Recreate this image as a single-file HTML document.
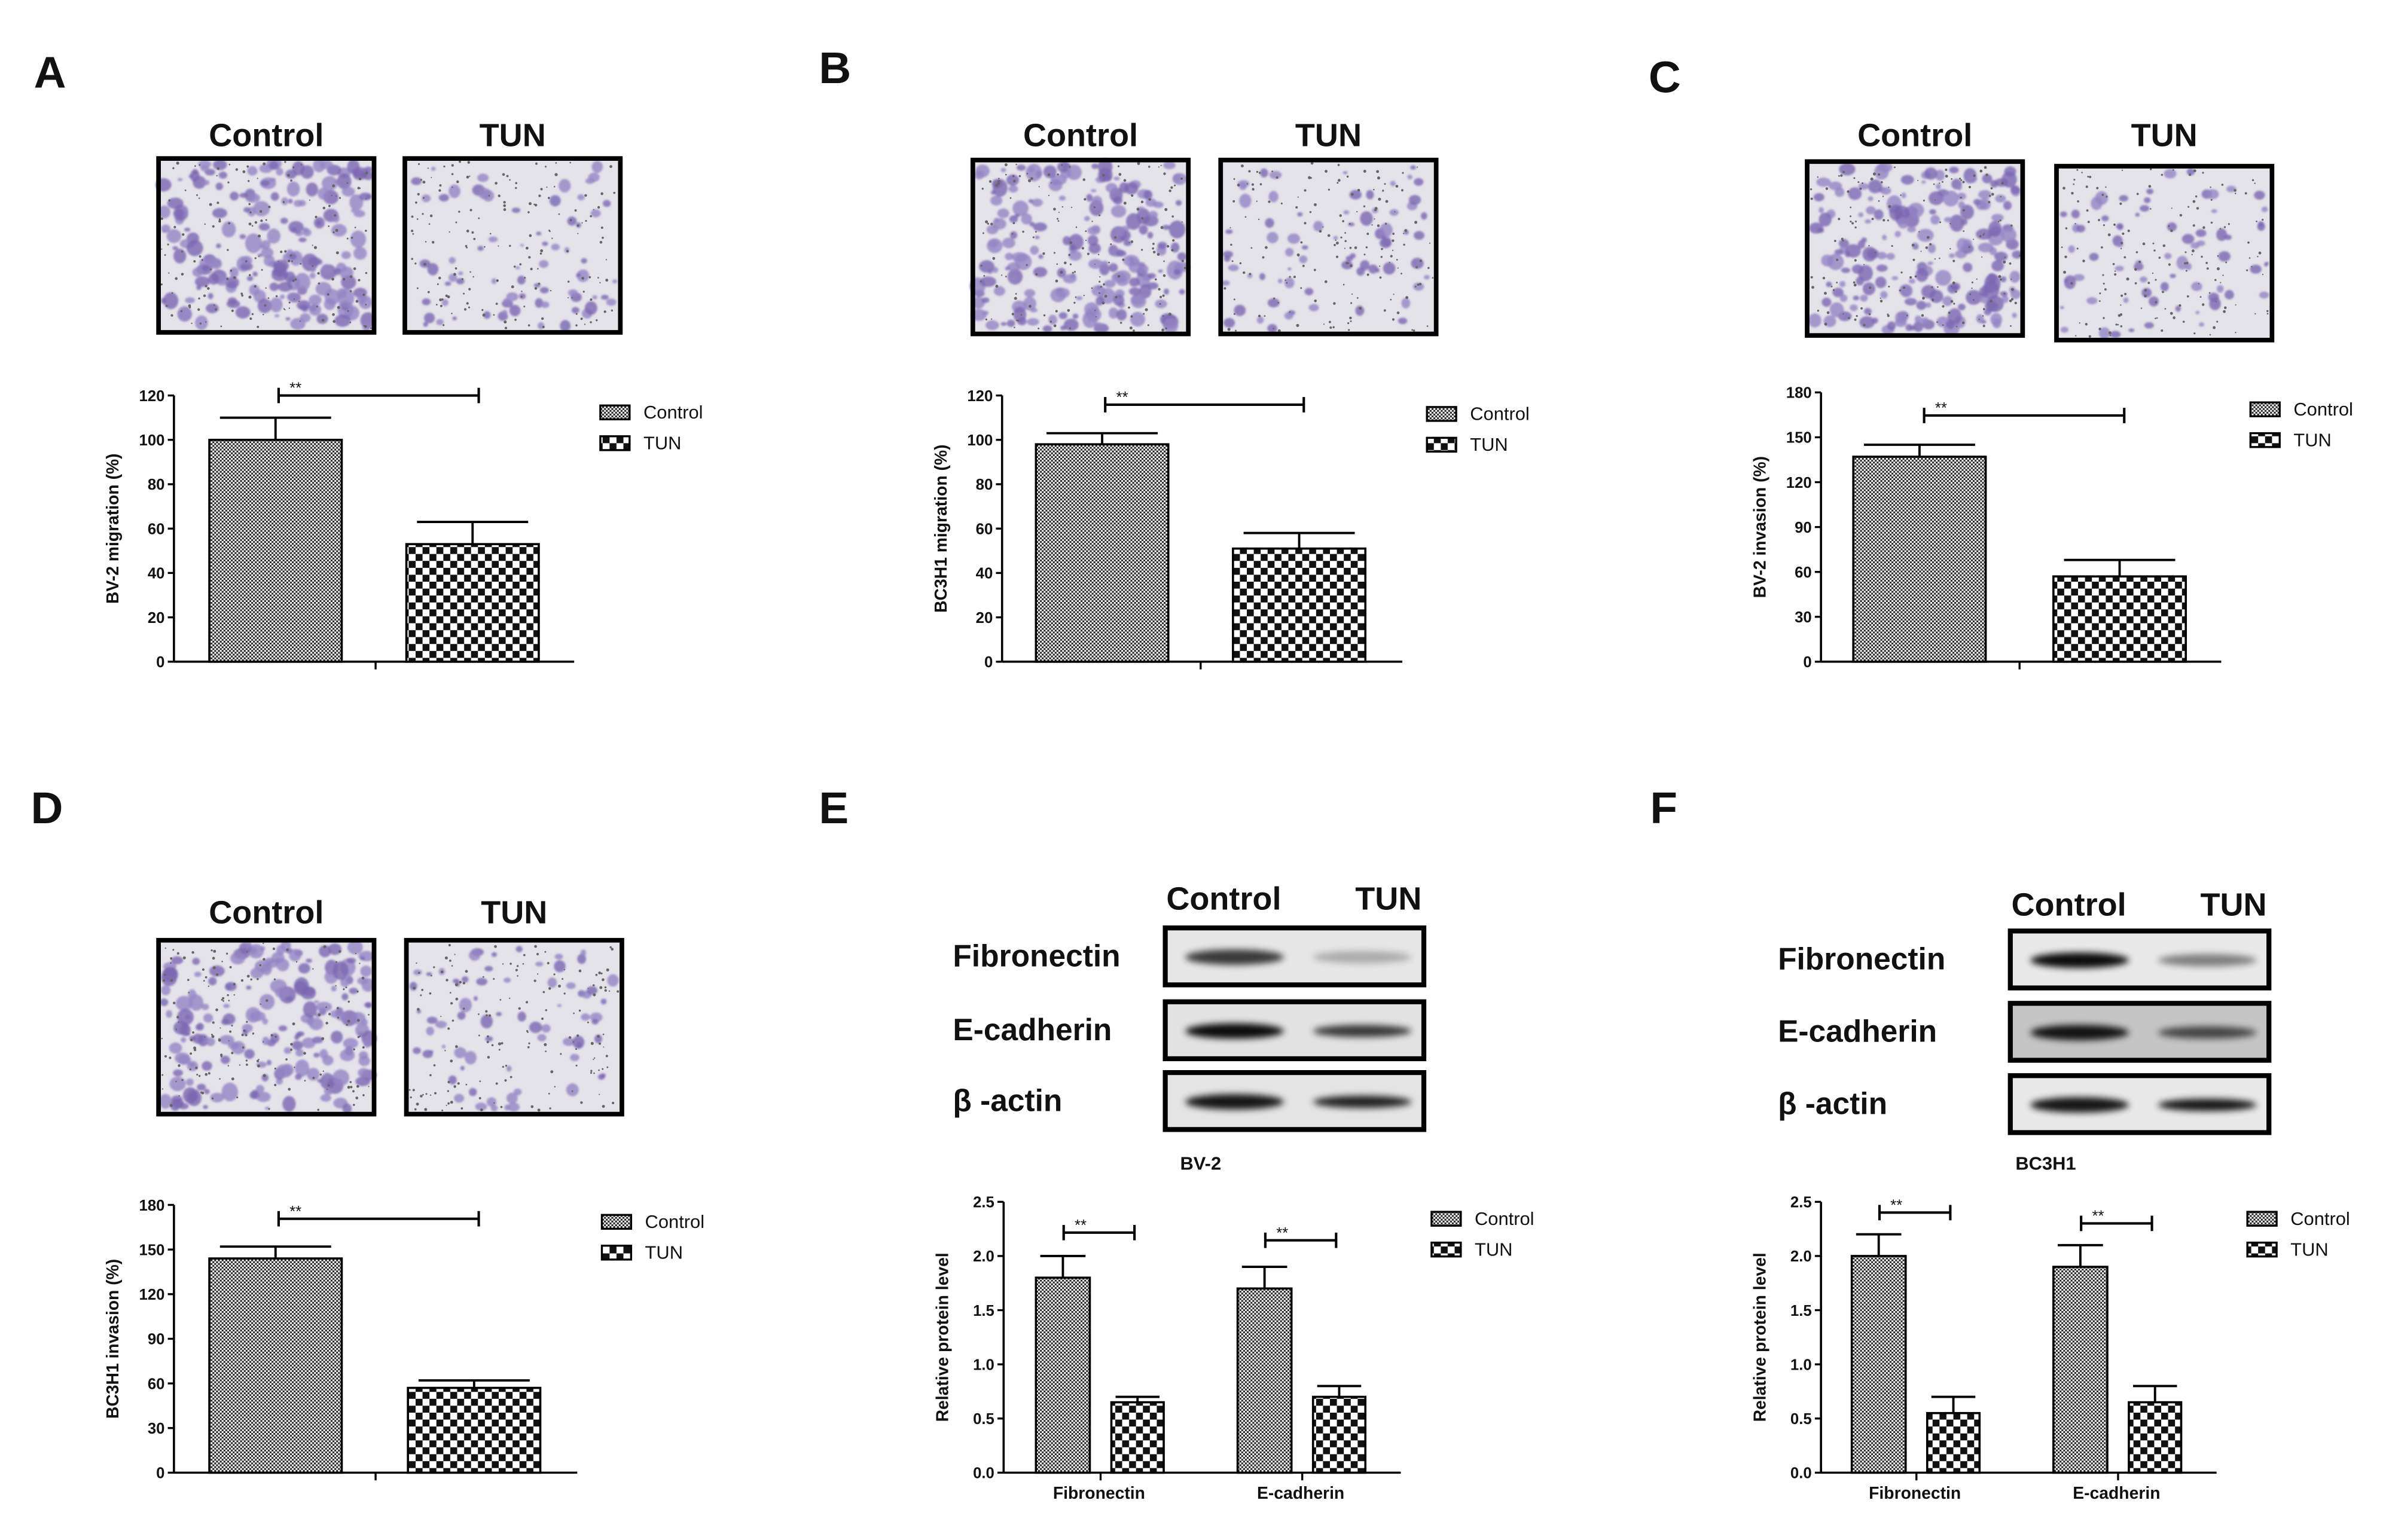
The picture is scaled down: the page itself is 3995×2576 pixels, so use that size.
<!DOCTYPE html>
<html><head><meta charset="utf-8">
<style>
html,body{margin:0;padding:0;background:#fff;}
svg{display:block;font-family:"Liberation Sans",Arial,sans-serif;}
</style></head>
<body>
<svg id="fig" xmlns="http://www.w3.org/2000/svg" width="3995" height="2576" viewBox="0 0 1552 1000.75">
<defs>
<pattern id="pCtrl" patternUnits="userSpaceOnUse" width="2.4" height="2.4">
<rect width="2.4" height="2.4" fill="#fff"/>
<rect width="1.2" height="1.2" fill="#222"/><rect x="1.2" y="1.2" width="1.2" height="1.2" fill="#222"/>
</pattern>
<pattern id="pTun" patternUnits="userSpaceOnUse" width="9" height="9">
<rect width="9" height="9" fill="#fff"/>
<rect width="4.5" height="4.5" fill="#111"/><rect x="4.5" y="4.5" width="4.5" height="4.5" fill="#111"/>
</pattern>
<filter id="blurB" x="-20%" y="-100%" width="140%" height="300%"><feGaussianBlur stdDeviation="2.2"/></filter>
<filter id="blurC" x="-20%" y="-20%" width="140%" height="140%"><feGaussianBlur stdDeviation="0.6"/></filter>
</defs>
<g id="root"></g>
</svg>
<script>
// ---------- DATA ----------
const groupsAD = ['Control', 'TUN'];
const aValues = [100, 53];
const aErrors = [10, 10];
const aTicks = [0, 20, 40, 60, 80, 100, 120];
const bValues = [98, 51];
const bErrors = [5, 7];
const bTicks = [0, 20, 40, 60, 80, 100, 120];
const cValues = [137, 57];
const cErrors = [8, 11];
const cTicks = [0, 30, 60, 90, 120, 150, 180];
const dValues = [144, 57];
const dErrors = [8, 5];
const dTicks = [0, 30, 60, 90, 120, 150, 180];
const proteinCategories = ['Fibronectin', 'E-cadherin'];
const eControl = [1.8, 1.7];
const eControlErr = [0.2, 0.2];
const eTun = [0.65, 0.7];
const eTunErr = [0.05, 0.1];
const fControl = [2.0, 1.9];
const fControlErr = [0.2, 0.2];
const fTun = [0.55, 0.65];
const fTunErr = [0.15, 0.15];
const proteinTicks = [0.0, 0.5, 1.0, 1.5, 2.0, 2.5];

const NS = 'http://www.w3.org/2000/svg';
const root = document.getElementById('root');
function el(tag, attrs, parent) {
  const e = document.createElementNS(NS, tag);
  for (const k in attrs) e.setAttribute(k, attrs[k]);
  (parent || root).appendChild(e);
  return e;
}
function txt(s, x, y, size, weight, anchor, parent, name) {
  const t = el('text', {x: x, y: y, 'font-size': size, 'font-weight': weight, 'text-anchor': anchor || 'middle', fill: '#111'}, parent);
  t.textContent = s;
  
  
  return t;
}
let seed = 7;
function rnd() { seed = (seed * 16807) % 2147483647; return (seed - 1) / 2147483646; }

function micrograph(x, y, w, h, count, rmin, rspan, name) {
  const g = el('g', {});
  
  
  el('rect', {x: x, y: y, width: w, height: h, fill: '#e4e3ea'}, g);
  const cg = el('g', {filter: 'url(#blurC)'}, g);
  for (let i = 0; i < count; i++) {
    const r = rmin + rnd() * rspan;
    el('ellipse', {cx: x + 3 + rnd() * (w - 6), cy: y + 3 + rnd() * (h - 6), rx: r, ry: r * (0.6 + rnd() * 0.6),
      fill: rnd() < 0.5 ? '#7c66b2' : '#9484c4', opacity: 0.8}, cg);
  }
  for (let i = 0; i < 160; i++) {
    el('circle', {cx: x + 2 + rnd() * (w - 4), cy: y + 2 + rnd() * (h - 4), r: 0.4 + rnd() * 0.6, fill: '#666'}, g);
  }
  el('rect', {x: x, y: y, width: w, height: h, fill: 'none', stroke: '#000', 'stroke-width': 3}, g);
}

function panelLetter(s, x, y) { txt(s, x, y, 29, 'bold', 'start', root, 'panel-label-' + s.toLowerCase()); }

function legend(x, y1, y2, prefix) {
  const g = el('g', {});
  
  
  el('rect', {x: x, y: y1 - 4.5, width: 19, height: 9, fill: 'url(#pCtrl)', stroke: '#000', 'stroke-width': 1.3}, g);
  el('rect', {x: x, y: y2 - 4.5, width: 19, height: 9, fill: 'url(#pTun)', stroke: '#000', 'stroke-width': 1.3}, g);
  txt('Control', x + 28, y1 + 4, 12, 'normal', 'start', g, 'legend-control');
  txt('TUN', x + 28, y2 + 4, 12, 'normal', 'start', g, 'legend-tun');
}

function axes(cfg) {
  const g = el('g', {});
  
  
  const ymax = cfg.ticks[cfg.ticks.length - 1];
  const Y = v => cfg.bottom - (v / ymax) * (cfg.bottom - cfg.top);
  el('line', {x1: cfg.x0, y1: cfg.top, x2: cfg.x0, y2: cfg.bottom, stroke: '#000', 'stroke-width': 1.4}, g);
  el('line', {x1: cfg.x0, y1: cfg.bottom, x2: cfg.x1, y2: cfg.bottom, stroke: '#000', 'stroke-width': 1.4}, g);
  cfg.ticks.forEach(t => {
    el('line', {x1: cfg.x0 - 4, y1: Y(t), x2: cfg.x0, y2: Y(t), stroke: '#000', 'stroke-width': 1.3}, g);
    txt(cfg.tickFmt ? t.toFixed(1) : String(t), cfg.x0 - 6, Y(t) + 3.6, 10, 'bold', 'end', g, 'y-tick-label');
  });
  const yl = txt(cfg.ylabel, 0, 0, 11, 'bold', 'middle', g, 'y-axis-title');
  yl.setAttribute('transform', 'translate(' + (cfg.x0 - 36) + ',' + ((cfg.top + cfg.bottom) / 2) + ') rotate(-90)');
  return Y;
}

function bar(x, w, v, err, Y, bottom, fill, name) {
  const g = el('g', {});
  
  
  const cx = x + w / 2;
  el('line', {x1: cx, y1: Y(v), x2: cx, y2: Y(v + err), stroke: '#000', 'stroke-width': 1.5}, g);
  el('line', {x1: cx - w * 0.42, y1: Y(v + err), x2: cx + w * 0.42, y2: Y(v + err), stroke: '#000', 'stroke-width': 1.5}, g);
  el('rect', {x: x, y: Y(v), width: w, height: bottom - Y(v), fill: fill, stroke: '#000', 'stroke-width': 1.4}, g);
}

function bracket(x1, x2, y, name) {
  const g = el('g', {});
  
  
  el('line', {x1: x1, y1: y, x2: x2, y2: y, stroke: '#000', 'stroke-width': 1.6}, g);
  el('line', {x1: x1, y1: y - 5, x2: x1, y2: y + 5, stroke: '#000', 'stroke-width': 1.6}, g);
  el('line', {x1: x2, y1: y - 5, x2: x2, y2: y + 5, stroke: '#000', 'stroke-width': 1.6}, g);
  txt('**', x1 + 11, y - 1.5, 10, 'normal', 'middle', g, 'significance-stars');
}

function twoBarPanel(cfg, values, errors, ticks) {
  const Y = axes({name: cfg.name, x0: cfg.x0, x1: cfg.x1, top: cfg.top, bottom: cfg.bottom, ticks: ticks, ylabel: cfg.ylabel});
  const fills = ['url(#pCtrl)', 'url(#pTun)'];
  groupsAD.forEach((gname, i) => {
    bar(cfg.barX[i], 86, values[i], errors[i], Y, cfg.bottom, fills[i], cfg.name + '-bar-' + gname.toLowerCase());
  });
  el('line', {x1: cfg.midTick, y1: cfg.bottom, x2: cfg.midTick, y2: cfg.bottom + 5, stroke: '#000', 'stroke-width': 1.3});
  bracket(cfg.br[0], cfg.br[1], cfg.br[2], cfg.name + '-significance');
  legend(cfg.legX, cfg.legY, cfg.legY + 20, cfg.name);
}

function imagesPanel(c1x, c1y, c2x, c2y, labY, name) {
  txt('Control', c1x + 70, labY, 21, 'bold', 'middle', root, name + '-control-title');
  txt('TUN', c2x + 70, labY, 21, 'bold', 'middle', root, name + '-tun-title');
  micrograph(c1x, c1y, 140, 113, 190, 1.5, 4, name + '-control-image');
  micrograph(c2x, c2y, 140, 113, 70, 1.2, 3, name + '-tun-image');
}

function blots(x, ys, labX, ctrlInt, tunInt, name, cell, cellY, titleY, bgs) {
  const labels = ['Fibronectin', 'E-cadherin', 'β -actin'];
  txt('Control', x + 38, titleY, 21, 'bold', 'middle', root, name + '-control-title');
  txt('TUN', x + 145, titleY, 21, 'bold', 'middle', root, name + '-tun-title');
  ys.forEach((y, i) => {
    const g = el('g', {});
    
    
    el('rect', {x: x, y: y, width: 168, height: 37, fill: bgs[i]}, g);
    el('ellipse', {cx: x + 45, cy: y + 19, rx: 32, ry: 5, fill: '#000', opacity: ctrlInt[i], filter: 'url(#blurB)'}, g);
    el('ellipse', {cx: x + 128, cy: y + 19, rx: 32, ry: 4, fill: '#000', opacity: tunInt[i], filter: 'url(#blurB)'}, g);
    el('rect', {x: x, y: y, width: 168, height: 37, fill: 'none', stroke: '#000', 'stroke-width': 3.2}, g);
    txt(labels[i], labX, y + 25, 20, 'bold', 'start', root, name + '-row-label');
  });
  txt(cell, x + 23, cellY, 12, 'bold', 'middle', root, name + '-cell-line');
}

function proteinPanel(cfg, ctrl, ctrlErr, tun, tunErr) {
  const Y = axes({name: cfg.name, x0: cfg.x0, x1: cfg.x1, top: cfg.top, bottom: cfg.bottom, ticks: proteinTicks, ylabel: 'Relative protein level', tickFmt: true});
  proteinCategories.forEach((c, i) => {
    const gx = cfg.groupX[i];
    bar(gx, 35, ctrl[i], ctrlErr[i], Y, cfg.bottom, 'url(#pCtrl)', cfg.name + '-bar-control-' + c.toLowerCase());
    bar(gx + 49, 34, tun[i], tunErr[i], Y, cfg.bottom, 'url(#pTun)', cfg.name + '-bar-tun-' + c.toLowerCase());
    el('line', {x1: gx + 42, y1: cfg.bottom, x2: gx + 42, y2: cfg.bottom + 5, stroke: '#000', 'stroke-width': 1.3});
    txt(c, gx + 41, cfg.bottom + 17, 11, 'bold', 'middle', root, 'x-tick-label');
    bracket(gx + 18, gx + 64, cfg.brY[i], cfg.name + '-significance-' + c.toLowerCase());
  });
  legend(cfg.legX, 792, 812, cfg.name);
}

// ---------- LAYOUT ----------
panelLetter('A', 22, 57); panelLetter('B', 532, 54); panelLetter('C', 1071, 60);
panelLetter('D', 20, 535); panelLetter('E', 532, 535); panelLetter('F', 1072, 535);

imagesPanel(103, 103, 263, 103, 95, 'a');
twoBarPanel({name: 'a', x0: 113, x1: 373, top: 257, bottom: 430, ylabel: 'BV-2 migration (%)', barX: [136, 264], midTick: 244, br: [181, 311, 257], legX: 390, legY: 268}, aValues, aErrors, aTicks);

imagesPanel(632, 104, 793, 104, 95, 'b');
twoBarPanel({name: 'b', x0: 651, x1: 911, top: 257, bottom: 430, ylabel: 'BC3H1 migration (%)', barX: [673, 801], midTick: 780, br: [718, 847, 263], legX: 927, legY: 269}, bValues, bErrors, bTicks);

imagesPanel(1174, 105, 1336, 108, 95, 'c');
twoBarPanel({name: 'c', x0: 1183, x1: 1443, top: 255, bottom: 430, ylabel: 'BV-2 invasion (%)', barX: [1204, 1334], midTick: 1312, br: [1250, 1380, 270], legX: 1462, legY: 266}, cValues, cErrors, cTicks);

imagesPanel(103, 611, 264, 611, 600, 'd');
twoBarPanel({name: 'd', x0: 113, x1: 375, top: 783, bottom: 957, ylabel: 'BC3H1 invasion (%)', barX: [136, 265], midTick: 244, br: [181, 311, 792], legX: 391, legY: 794}, dValues, dErrors, dTicks);

blots(757, [603, 651, 697], 619, [0.75, 0.95, 0.9], [0.25, 0.75, 0.85], 'e', 'BV-2', 760, 591, ['#e6e6e6', '#e2e2e2', '#e4e4e4']);
proteinPanel({name: 'e', x0: 652, x1: 910, top: 781, bottom: 957, groupX: [673, 804], brY: [801, 806], legX: 930}, eControl, eControlErr, eTun, eTunErr);

blots(1306, [605, 652, 699], 1155, [0.95, 0.9, 0.9], [0.45, 0.65, 0.9], 'f', 'BC3H1', 760, 595, ['#e8e8e8', '#c4c4c4', '#e8e8e8']);
proteinPanel({name: 'f', x0: 1183, x1: 1440, top: 781, bottom: 957, groupX: [1203, 1334], brY: [788, 795], legX: 1460}, fControl, fControlErr, fTun, fTunErr);
</script>
</body></html>
